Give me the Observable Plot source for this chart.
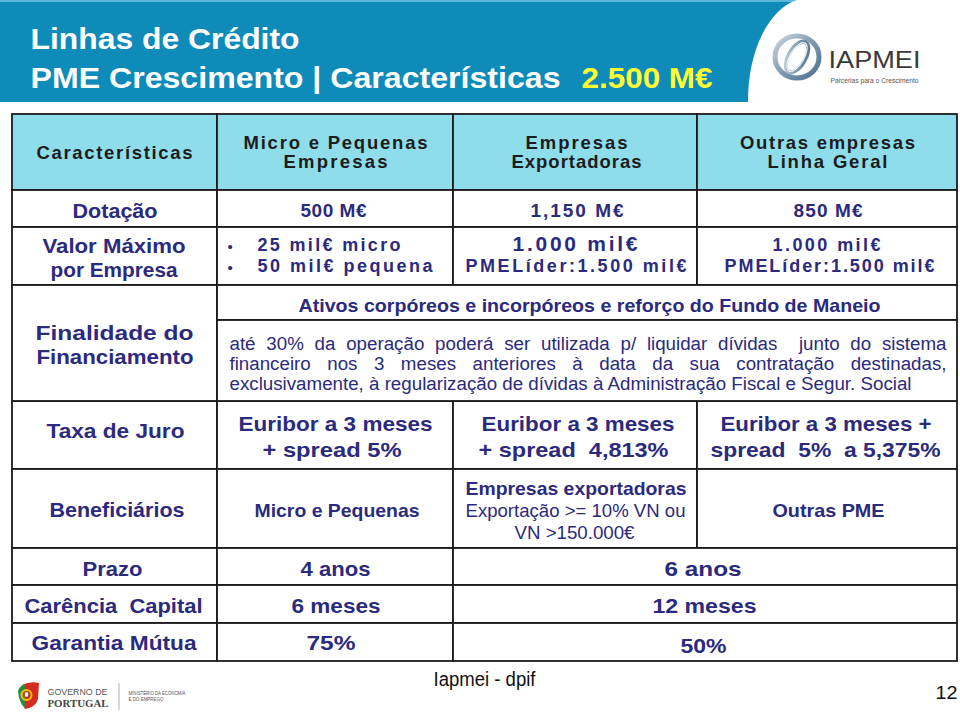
<!DOCTYPE html>
<html>
<head>
<meta charset="utf-8">
<script src="https://cdn.jsdelivr.net/npm/d3@7"></script>
<script src="https://cdn.jsdelivr.net/npm/@observablehq/plot@0.6"></script>
<style>
  html, body { margin: 0; padding: 0; background: #fff; overflow: hidden; }
  svg { display: block; }
</style>
</head>
<body>
<script>
// ---------- DATA (text content of the slide table) ----------
const titleLines = ["Linhas de Crédito", "PME Crescimento | Características"];
const titleTotal = "2.500 M€";
const brandName = "IAPMEI";
const brandTagline = "Parcerias para o Crescimento";
const cornerLabel = "Características";
const lineHeaders = [["Micro e Pequenas", "Empresas"], ["Empresas", "Exportadoras"], ["Outras empresas", "Linha Geral"]];
const rowLabels = [["Dotação"], ["Valor Máximo", "por Empresa"], ["Finalidade do", "Financiamento"], ["Taxa de Juro"], ["Beneficiários"], ["Prazo"], ["Carência  Capital"], ["Garantia Mútua"]];
const dotacao = ["500 M€", "1,150 M€", "850 M€"];
const valorMaximo = [["25 mil€ micro", "50 mil€ pequena"], ["1.000 mil€", "PMELíder:1.500 mil€"], ["1.000 mil€", "PMELíder:1.500 mil€"]];
const finalidadeTitle = "Ativos corpóreos e incorpóreos e reforço do Fundo de Maneio";
const finalidadeText = [
  "até 30% da operação poderá ser utilizada p/ liquidar dívidas  junto do sistema",
  "financeiro nos 3 meses anteriores à data da sua contratação destinadas,",
  "exclusivamente, à regularização de dívidas à Administração Fiscal e Segur. Social"
];
const taxaJuro = [["Euribor a 3 meses", "+ spread 5%"], ["Euribor a 3 meses", "+ spread  4,813%"], ["Euribor a 3 meses +", "spread  5%  a 5,375%"]];
const beneficiarios = [["Micro e Pequenas"], ["Empresas exportadoras", "Exportação >= 10% VN ou", "VN >150.000€"], ["Outras PME"]];
const prazo = ["4 anos", "6 anos"];
const carencia = ["6 meses", "12 meses"];
const garantia = ["75%", "50%"];
const footerText = "Iapmei - dpif";
const pageNumber = "12";
const govLines = ["GOVERNO DE", "PORTUGAL"];
const ministryLines = ["MINISTÉRIO DA ECONOMIA", "E DO EMPREGO"];

// ---------- LAYOUT ----------
const W = 960, H = 712;
const colEdges = [12, 217, 453, 697, 957];
const rowEdges = [114, 190, 227, 285, 401, 469, 548, 585, 623, 661];
const finalidadeSplit = 320;
const NAVY = "#2B2A7D", HEAD = "#1c1c1c", BLUE = "#0E8BB9", CYAN = "#8FDCEA", YELLOW = "#FFFF33";
const ARIAL = "'Liberation Sans', Arial, Helvetica, sans-serif";
const NARROW = "'Liberation Sans Narrow', 'Arial Narrow', 'Liberation Sans', sans-serif";
const SERIF = "'Liberation Serif', 'DejaVu Serif', serif";

// cells of the table
const cells = [];
const cell = (c1, c2, r, y1, y2, header = false) =>
  cells.push({x1: colEdges[c1], x2: colEdges[c2], y1: y1 ?? rowEdges[r], y2: y2 ?? rowEdges[r + 1], header});
for (let c = 0; c < 4; c++) cell(c, c + 1, 0, null, null, true);
for (const r of [1, 2, 4, 5]) for (let c = 0; c < 4; c++) cell(c, c + 1, r);
cell(0, 1, 3);
cell(1, 4, 3, rowEdges[3], finalidadeSplit);
cell(1, 4, 3, finalidadeSplit, rowEdges[4]);
for (const r of [6, 7, 8]) { cell(0, 1, r); cell(1, 2, r); cell(2, 4, r); }

// text items
const T = [];
const t = (text, x, y, w, size, o = {}) => T.push({
  text, x, y, w, size,
  weight: o.weight ?? "bold", family: o.family ?? ARIAL, fill: o.fill ?? NAVY,
  anchor: o.anchor ?? "middle", adj: o.adj ?? "spacingAndGlyphs", just: o.just
});
// banner
t(titleLines[0], 30, 48, 269, 30, {family: NARROW, fill: "#fff", anchor: "start"});
t(titleLines[1], 30, 87, 530, 30, {family: NARROW, fill: "#fff", anchor: "start"});
t(titleTotal, 581, 87, 131, 30, {family: NARROW, fill: YELLOW, anchor: "start"});
t(brandName, 828, 67, 92, 24, {weight: "normal", fill: "#3a3a3a", anchor: "start"});
t(brandTagline, 830, 82, 88, 7, {weight: "normal", fill: "#555", anchor: "start"});
// header row
const hs = {fill: HEAD, adj: "spacing"};
t(cornerLabel, 114, 158, 156, 18.5, hs);
t(lineHeaders[0][0], 335, 148, 184, 18.5, hs);
t(lineHeaders[0][1], 335, 167.5, 104, 18.5, hs);
t(lineHeaders[1][0], 576, 148, 102, 18.5, hs);
t(lineHeaders[1][1], 576, 167.5, 130, 18.5, hs);
t(lineHeaders[2][0], 827, 148, 175, 18.5, hs);
t(lineHeaders[2][1], 827, 167.5, 120, 18.5, hs);
// row labels
t(rowLabels[0][0], 114.5, 217, 85, 20);
t(rowLabels[1][0], 113.5, 252, 143, 20);
t(rowLabels[1][1], 113.5, 276, 127, 20);
t(rowLabels[2][0], 114, 339, 158, 21, {family: NARROW});
t(rowLabels[2][1], 114.5, 363, 157, 21, {family: NARROW});
t(rowLabels[3][0], 115, 437, 138, 21, {family: NARROW});
t(rowLabels[4][0], 116.5, 516, 135, 21, {family: NARROW});
t(rowLabels[5][0], 112, 575, 60, 21, {family: NARROW});
t(rowLabels[6][0], 113, 612, 178, 21, {family: NARROW});
t(rowLabels[7][0], 113.5, 649, 165, 21, {family: NARROW});
// dotação
const sp = {adj: "spacing"};
t(dotacao[0], 333, 216, 66, 19, sp);
t(dotacao[1], 576.5, 216, 93, 19, sp);
t(dotacao[2], 827.5, 216, 69, 19, sp);
// valor máximo
t("•", 227, 251, null, 15, {anchor: "start", weight: "normal"});
t("•", 227, 272, null, 15, {anchor: "start", weight: "normal"});
t(valorMaximo[0][0], 257, 250, 143, 18, {anchor: "start", adj: "spacing"});
t(valorMaximo[0][1], 257, 271, 175, 18, {anchor: "start", adj: "spacing"});
t(valorMaximo[1][0], 574.5, 250, 125, 21, sp);
t(valorMaximo[1][1], 575.5, 271, 221, 18, sp);
t(valorMaximo[2][0], 826, 250, 108, 18, sp);
t(valorMaximo[2][1], 829, 271, 210, 18, sp);
// finalidade
t(finalidadeTitle, 589, 311, 582, 19, {family: NARROW});
t(finalidadeText[0], 229, 349, 717, 18, {family: NARROW, weight: "normal", anchor: "start", just: 1});
t(finalidadeText[1], 229, 369, 717, 18, {family: NARROW, weight: "normal", anchor: "start", just: 1});
t(finalidadeText[2], 229, 389, 682, 18, {family: NARROW, weight: "normal", anchor: "start", just: 2});
// taxa de juro
const nb = {family: NARROW};
t(taxaJuro[0][0], 335, 430, 194, 21, nb);
t(taxaJuro[0][1], 331.5, 456, 139, 21, nb);
t(taxaJuro[1][0], 577.5, 430, 193, 21, nb);
t(taxaJuro[1][1], 573, 456, 190, 21, nb);
t(taxaJuro[2][0], 825.5, 430, 211, 21, nb);
t(taxaJuro[2][1], 825, 456, 230, 21, nb);
// beneficiários
t(beneficiarios[0][0], 336.5, 516, 165, 19, nb);
t(beneficiarios[1][0], 575.5, 494, 221, 19, nb);
t(beneficiarios[1][1], 575, 516, 220, 19, {family: NARROW, weight: "normal"});
t(beneficiarios[1][2], 574, 538, 120, 19, {family: NARROW, weight: "normal"});
t(beneficiarios[2][0], 828, 516, 112, 19, nb);
// prazo, carência, garantia
t(prazo[0], 335, 575, 70, 21, {family: NARROW, adj: "spacingAndGlyphs"});
t(prazo[1], 702.5, 575, 77, 21, {family: NARROW, adj: "spacingAndGlyphs"});
t(carencia[0], 335.5, 612, 89, 21, nb);
t(carencia[1], 704, 612, 104, 21, nb);
t(garantia[0], 330.5, 649, 49, 21, nb);
t(garantia[1], 703, 652, 46, 21, nb);
// footer
t(footerText, 484, 685, 102, 20, {family: NARROW, weight: "normal", fill: "#111"});
t(pageNumber, 957, 698, 22, 19, {family: NARROW, weight: "normal", fill: "#111", anchor: "end"});
t(govLines[0], 47, 694, 60, 9, {weight: "normal", fill: "#555", anchor: "start"});
t(govLines[1], 47, 706.5, 61, 10.5, {family: SERIF, fill: "#444", anchor: "start"});
t(ministryLines[0], 128, 694, 57, 5, {weight: "normal", fill: "#555", anchor: "start"});
t(ministryLines[1], 128, 700, 35, 5, {weight: "normal", fill: "#555", anchor: "start"});

// ---------- decorative marks (logos / banner curve) ----------
function bannerCurve() {
  const g = d3.create("svg:g");
  g.append("path").attr("d", "M797,0 A60,102 0 0 0 748,100 L748,102 L960,102 L960,0 Z").attr("fill", "#fff");
  return g.node();
}
function iapmeiRing() {
  const g = d3.create("svg:g");
  const defs = g.append("defs");
  const gr = defs.append("linearGradient").attr("id", "ringGrad").attr("x1", 0).attr("y1", 0).attr("x2", 1).attr("y2", 1);
  gr.append("stop").attr("offset", 0).attr("stop-color", "#c9d6e0");
  gr.append("stop").attr("offset", 0.5).attr("stop-color", "#7f9bb3");
  gr.append("stop").attr("offset", 1).attr("stop-color", "#4f6f8c");
  g.append("ellipse").attr("cx", 797).attr("cy", 57).attr("rx", 22).attr("ry", 21)
    .attr("fill", "none").attr("stroke", "url(#ringGrad)").attr("stroke-width", 5);
  g.append("ellipse").attr("cx", 797).attr("cy", 57).attr("rx", 17).attr("ry", 8.5)
    .attr("transform", "rotate(-60 797 57)")
    .attr("fill", "none").attr("stroke", "url(#ringGrad)").attr("stroke-width", 4);
  g.append("ellipse").attr("cx", 797).attr("cy", 57).attr("rx", 16).attr("ry", 7)
    .attr("transform", "rotate(-60 797 57)")
    .attr("fill", "none").attr("stroke", "#eef3f7").attr("stroke-width", 1.2);
  return g.node();
}
function govShield() {
  const g = d3.create("svg:g");
  g.append("path").attr("d", "M22,685 Q30,681 39,683 L38,699 Q36,707 25,709 Q22,700 22,685 Z").attr("fill", "#D52B1E");
  g.append("path").attr("d", "M18,691 Q19,686 25,684.5 L25,708.5 Q19,703 18,691 Z").attr("fill", "#2F8A3B");
  g.append("circle").attr("cx", 26.5).attr("cy", 695).attr("r", 5).attr("fill", "none").attr("stroke", "#F2C500").attr("stroke-width", 2);
  g.append("rect").attr("x", 24.7).attr("y", 692).attr("width", 3.6).attr("height", 5).attr("fill", "#fff").attr("stroke", "#D52B1E").attr("stroke-width", 0.8);
  g.append("line").attr("x1", 119).attr("x2", 119).attr("y1", 683).attr("y2", 710).attr("stroke", "#9a9a9a").attr("stroke-width", 0.8);
  return g.node();
}

// ---------- PLOT ----------
const textMarks = T.map(d => Plot.text([d], {
  x: "x", y: "y", text: "text",
  fontSize: d.size, fontWeight: d.weight, fontFamily: d.family, fill: d.fill,
  textAnchor: d.anchor, lineAnchor: "bottom"
}));

const svg = Plot.plot({
  width: W, height: H,
  marginTop: 0, marginRight: 0, marginBottom: 0, marginLeft: 0,
  x: {domain: [0, W], range: [0, W], axis: null},
  y: {domain: [0, H], range: [0, H], axis: null},
  style: {background: "#fff"},
  marks: [
    Plot.rect([{x1: 0, x2: W, y1: 0, y2: 102}], {x1: "x1", x2: "x2", y1: "y1", y2: "y2", fill: BLUE}),
    Plot.rect([{x1: 0, x2: W, y1: 0, y2: 2}], {x1: "x1", x2: "x2", y1: "y1", y2: "y2", fill: "#5DB7D8"}),
    bannerCurve,
    iapmeiRing,
    Plot.rect(cells.filter(d => d.header), {x1: "x1", x2: "x2", y1: "y1", y2: "y2", fill: CYAN, stroke: "#1b1b1b", strokeWidth: 1.8}),
    Plot.rect(cells.filter(d => !d.header), {x1: "x1", x2: "x2", y1: "y1", y2: "y2", fill: "#fff", stroke: "#1b1b1b", strokeWidth: 1.8}),
    govShield,
    ...textMarks
  ]
});
document.body.append(svg);

// ---------- fit text widths to the reference ----------
const groups = svg.querySelectorAll('g[aria-label="text"]');
const els = Array.from(groups, g => g.querySelector("text"));
let paraScale = 1;
T.forEach((d, i) => { if (d.just === 2) paraScale = d.w / els[i].getComputedTextLength(); });
T.forEach((d, i) => {
  const el = els[i];
  if (!el || !d.w) return;
  if (d.just === 1) {
    const n = el.getComputedTextLength();
    const spaces = (d.text.match(/ /g) || []).length;
    const ws = (d.w / paraScale - n) / spaces;
    el.style.wordSpacing = ws + "px";
  }
  el.setAttribute("textLength", d.w);
  el.setAttribute("lengthAdjust", d.adj);
});
</script>
</body>
</html>
